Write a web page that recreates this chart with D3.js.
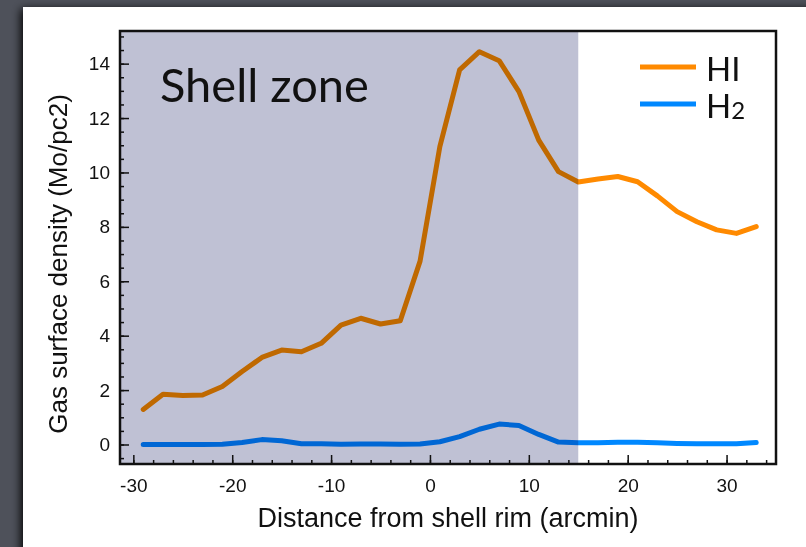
<!DOCTYPE html>
<html>
<head>
<meta charset="utf-8">
<script src="https://cdn.jsdelivr.net/npm/d3@7"></script>
<style>
  html, body { margin: 0; padding: 0; background: #4c4f58; }
  svg { display: block; }
</style>
</head>
<body>
<div id="chart"></div>
<script>
// distance from shell rim (arcmin)
const distance = [-29, -27, -25, -23, -21, -19, -17, -15, -13, -11, -9, -7, -5, -3, -1,
                  1, 3, 5, 7, 9, 11, 13, 15, 17, 19, 21, 23, 25, 27, 29, 31, 33];
const hiDensity = [1.29, 1.85, 1.80, 1.82, 2.13, 2.68, 3.20, 3.47, 3.41, 3.72, 4.39, 4.64, 4.43, 4.55, 6.74,
                   10.95, 13.77, 14.44, 14.11, 12.97, 11.19, 10.03, 9.65, 9.76, 9.85, 9.66, 9.14, 8.56, 8.19, 7.89, 7.76, 8.01];
const h2Density = [0.00, 0.00, 0.00, 0.00, 0.01, 0.07, 0.18, 0.14, 0.03, 0.03, 0.01, 0.02, 0.02, 0.01, 0.02,
                   0.10, 0.29, 0.56, 0.75, 0.70, 0.37, 0.09, 0.06, 0.06, 0.08, 0.08, 0.06, 0.04, 0.03, 0.03, 0.03, 0.07];
const shellEdge = 15;
const xTicks = [-30, -20, -10, 0, 10, 20, 30];
const yTicks = [0, 2, 4, 6, 8, 10, 12, 14];

const W = 806, H = 547;
const margin = { top: 31, right: 30, bottom: 83, left: 120 };
const labelFont = "'Liberation Sans', Arial, sans-serif";

const svg = d3.select("#chart").append("svg")
  .attr("width", W)
  .attr("height", H);

const defs = svg.append("defs");
const shadow = defs.append("filter").attr("id", "shadow")
  .attr("x", "-10%").attr("y", "-10%").attr("width", "120%").attr("height", "120%");
shadow.append("feGaussianBlur").attr("in", "SourceAlpha").attr("stdDeviation", 5);
shadow.append("feOffset").attr("dx", -2).attr("dy", 2).attr("result", "b");
const merge = shadow.append("feMerge");
merge.append("feMergeNode").attr("in", "b");
merge.append("feMergeNode").attr("in", "SourceGraphic");

svg.append("rect").attr("width", W).attr("height", H).attr("fill", "#4e515a");
svg.append("rect")
  .attr("x", 23).attr("y", 7)
  .attr("width", W).attr("height", H)
  .attr("fill", "#fff")
  .attr("filter", "url(#shadow)");

const x = d3.scaleLinear().domain([-31.35, 35.0]).range([margin.left, W - margin.right]);
const y = d3.scaleLinear().domain([-0.717, 15.2]).range([H - margin.bottom, margin.top]);

const g = svg.append("g");

const line = d3.line()
  .x((d, i) => x(distance[i]))
  .y(d => y(d));

g.append("path")
  .datum(hiDensity)
  .attr("d", line)
  .attr("fill", "none")
  .attr("stroke", "#ff8a00")
  .attr("stroke-width", 5)
  .attr("stroke-linejoin", "round")
  .attr("stroke-linecap", "round");

g.append("path")
  .datum(h2Density)
  .attr("d", line)
  .attr("fill", "none")
  .attr("stroke", "#0088ff")
  .attr("stroke-width", 5)
  .attr("stroke-linejoin", "round")
  .attr("stroke-linecap", "round");

// shell zone shading, multiplied over the lines
g.append("rect")
  .attr("x", x.range()[0])
  .attr("y", y.range()[1])
  .attr("width", x(shellEdge) - x.range()[0])
  .attr("height", y.range()[0] - y.range()[1])
  .attr("fill", "#bfc1d4")
  .style("mix-blend-mode", "multiply");

// axes with inward ticks (minor and major in separate groups)
const xMinor = d3.range(-30, 35, 2);
const yMinor = d3.range(-0.5, 15.01, 0.5);

function styleAxis(sel) {
  sel.selectAll("path.domain").remove();
  sel.selectAll("line").attr("stroke", "#111").attr("stroke-width", 1.5);
  sel.selectAll("text")
    .style("font-family", labelFont)
    .style("font-size", "19px")
    .attr("fill", "#111");
}

g.append("g")
  .attr("transform", `translate(0,${y.range()[0]})`)
  .call(d3.axisBottom(x).tickValues(xMinor).tickSize(-4).tickFormat(""))
  .call(styleAxis);
g.append("g")
  .attr("transform", `translate(0,${y.range()[0]})`)
  .call(d3.axisBottom(x).tickValues(xTicks).tickSize(-9).tickPadding(15).tickFormat(d => String(d)))
  .call(styleAxis);

g.append("g")
  .attr("transform", `translate(${x.range()[0]},0)`)
  .call(d3.axisLeft(y).tickValues(yMinor).tickSize(-4).tickFormat(""))
  .call(styleAxis);
g.append("g")
  .attr("transform", `translate(${x.range()[0]},0)`)
  .call(d3.axisLeft(y).tickValues(yTicks).tickSize(-9).tickPadding(10).tickFormat(d => String(d)))
  .call(styleAxis);

// frame
g.append("rect")
  .attr("x", x.range()[0])
  .attr("y", y.range()[1])
  .attr("width", x.range()[1] - x.range()[0])
  .attr("height", y.range()[0] - y.range()[1])
  .attr("fill", "none")
  .attr("stroke", "#111")
  .attr("stroke-width", 2.5);

// axis titles
svg.append("text")
  .attr("x", (x.range()[0] + x.range()[1]) / 2)
  .attr("y", 527)
  .attr("text-anchor", "middle")
  .style("font-family", labelFont)
  .style("font-size", "27px")
  .attr("fill", "#111")
  .text("Distance from shell rim (arcmin)");

svg.append("text")
  .attr("transform", "translate(67,264) rotate(-90)")
  .attr("text-anchor", "middle")
  .style("font-family", labelFont)
  .style("font-size", "26px")
  .attr("fill", "#111")
  .text("Gas surface density (Mo/pc2)");

// annotation
svg.append("text")
  .attr("x", 160)
  .attr("y", 102)
  .style("font-family", "Lato, sans-serif")
  .style("font-size", "47px")
  .attr("fill", "#111")
  .text("Shell zone");

// legend
const legend = svg.append("g").attr("transform", "translate(640,0)");
const legendItems = [
  { label: "HI", color: "#ff8a00", y: 67 },
  { label: "H", sub: "2", color: "#0088ff", y: 104 }
];
legendItems.forEach(d => {
  legend.append("line")
    .attr("x1", 0).attr("x2", 56)
    .attr("y1", d.y).attr("y2", d.y)
    .attr("stroke", d.color)
    .attr("stroke-width", 5);
  const t = legend.append("text")
    .attr("x", 66)
    .attr("y", d.y + 14)
    .style("font-family", "Lato, sans-serif")
    .style("font-size", "33px")
    .attr("fill", "#111")
    .text(d.label);
  if (d.sub) {
    t.append("tspan")
      .attr("dy", 1)
      .style("font-size", "24px")
      .text(d.sub);
  }
});
</script>
</body>
</html>
